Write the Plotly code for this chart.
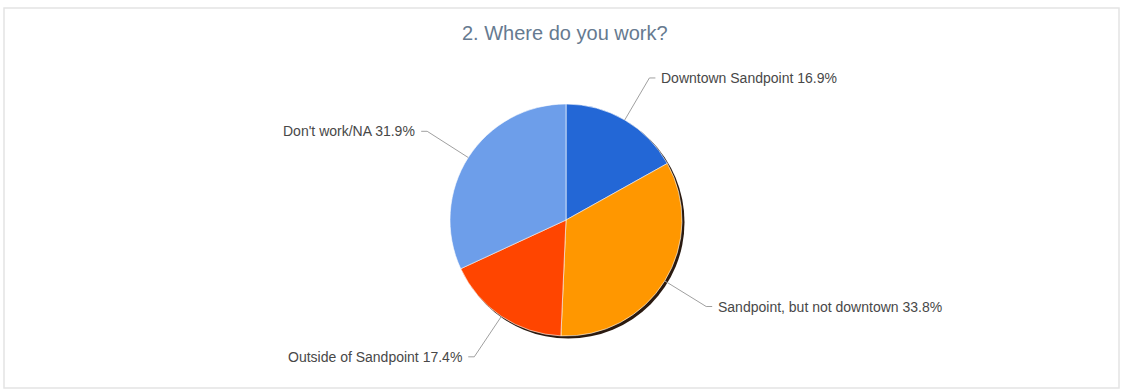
import math
import plotly.graph_objects as go

# Survey responses
labels = ["Downtown Sandpoint", "Sandpoint, but not downtown", "Outside of Sandpoint", "Don't work/NA"]
shares = [16.9, 33.8, 17.4, 31.9]
colors = ["#2367d6", "#ff9700", "#ff4500", "#6d9eea"]
title_text = "2. Where do you work?"

W, H = 1122, 390
cx, cy, R = 566, 220, 116  # pie centre and radius in pixels

def px(x):
    return x / W

def py(y):
    return 1 - y / H

fig = go.Figure()
fig.add_trace(go.Pie(
    labels=labels,
    values=shares,
    sort=False,
    direction="clockwise",
    rotation=0,
    marker=dict(colors=colors, line=dict(color="rgba(255,255,255,0.6)", width=1)),
    textinfo="none",
    hoverinfo="label+percent",
    showlegend=False,
    domain=dict(x=[px(cx - R), px(cx + R)], y=[py(cy + R), py(cy - R)]),
))

shapes = []
# soft drop shadow behind the pie
shapes.append(dict(type="circle", xref="paper", yref="paper", layer="below",
                   x0=px(cx - R + 2), x1=px(cx + R + 2.5), y0=py(cy + R + 2.5), y1=py(cy - R + 2),
                   fillcolor="#2a1a10", line=dict(width=0)))
# outer frame
shapes.append(dict(type="rect", xref="paper", yref="paper", layer="below",
                   x0=px(4), x1=px(1119), y0=py(388), y1=py(8),
                   line=dict(color="#e4e4e4", width=1.5), fillcolor="rgba(0,0,0,0)"))

annotations = []
total = sum(shares)
cum = 0.0
for lab, v in zip(labels, shares):
    mid = (cum + v / 2) / total * 2 * math.pi
    cum += v
    s, c = math.sin(mid), math.cos(mid)
    x1, y1 = cx + R * s, cy - R * c
    x2, y2 = cx + 1.42 * R * s, cy - 1.42 * R * c
    side = 1 if s >= 0 else -1
    x3 = x2 + side * 6
    shapes.append(dict(type="path", xref="paper", yref="paper",
                       path=f"M {px(x1)} {py(y1)} L {px(x2)} {py(y2)} L {px(x3)} {py(y2)}",
                       line=dict(color="#a0a0a0", width=1)))
    annotations.append(dict(
        x=px(x3 + side * 4), y=py(y2), xref="paper", yref="paper",
        text=f"{lab} {v:.1f}%", showarrow=False,
        xanchor="left" if side > 0 else "right", yanchor="middle",
        font=dict(family="Arial, Liberation Sans, sans-serif", size=14, color="#484848"),
    ))

annotations.append(dict(
    x=px(565), y=py(33), xref="paper", yref="paper", text=title_text, showarrow=False,
    xanchor="center", yanchor="middle",
    font=dict(family="Arial, Liberation Sans, sans-serif", size=20, color="#667a90"),
))

fig.update_layout(
    width=W, height=H,
    margin=dict(l=0, r=0, t=0, b=0),
    paper_bgcolor="white",
    plot_bgcolor="white",
    shapes=shapes,
    annotations=annotations,
)

fig.write_html("out.html")
